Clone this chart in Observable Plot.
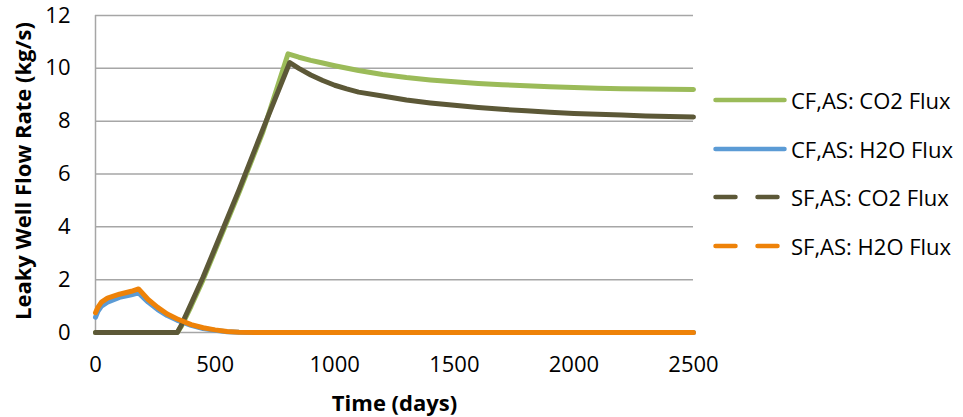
<!DOCTYPE html>
<html>
<head>
<meta charset="utf-8">
<script src="https://cdn.jsdelivr.net/npm/d3@7"></script>
<script src="https://cdn.jsdelivr.net/npm/@observablehq/plot@0.6"></script>
<style>
  body { margin: 0; background: #fff; font-family: "Open Sans", sans-serif; }
  #wrap { position: relative; width: 963px; height: 417px; }
  #legend { position: absolute; left: 713px; top: 0; }
  .item { position: absolute; left: 0; display: flex; align-items: center; white-space: nowrap; font-size: 22px; color: #000; }
  .item svg { margin-right: 4px; }
</style>
</head>
<body>
<div id="wrap"><div id="chart"></div><div id="legend"></div></div>
<script>
const seriesNames = ["CF,AS: CO2 Flux", "CF,AS: H2O Flux", "SF,AS: CO2 Flux", "SF,AS: H2O Flux"];
const seriesColors = ["#9BBB59", "#5B9BD5", "#5C5837", "#EE8208"];
const seriesDashed = [false, false, true, true];

const cfCO2Days = [0, 342, 360, 400, 450, 500, 600, 700, 805, 850, 900, 950, 1000, 1100, 1200, 1300, 1400, 1500, 1600, 1700, 1800, 1900, 2000, 2100, 2200, 2300, 2400, 2500];
const cfCO2Vals = [0, 0, 0.25, 1.0, 2.0, 3.1, 5.3, 7.6, 10.55, 10.42, 10.3, 10.2, 10.1, 9.92, 9.77, 9.65, 9.56, 9.49, 9.43, 9.38, 9.34, 9.3, 9.27, 9.25, 9.23, 9.22, 9.21, 9.2];

const cfH2ODays = [0, 10, 25, 50, 100, 150, 180, 220, 260, 300, 340, 400, 450, 500, 550, 600, 700, 2500];
const cfH2OVals = [0.58, 0.8, 1.0, 1.15, 1.33, 1.43, 1.5, 1.15, 0.87, 0.64, 0.47, 0.27, 0.15, 0.08, 0.03, 0.01, 0, 0];

const sfCO2Days = [0, 342, 360, 400, 450, 500, 600, 700, 812, 850, 900, 950, 1000, 1050, 1100, 1200, 1300, 1400, 1500, 1600, 1700, 1800, 1900, 2000, 2100, 2200, 2300, 2400, 2500];
const sfCO2Vals = [0, 0, 0.3, 1.1, 2.1, 3.2, 5.4, 7.7, 10.22, 10.0, 9.75, 9.54, 9.36, 9.22, 9.1, 8.95, 8.8, 8.69, 8.6, 8.52, 8.45, 8.39, 8.34, 8.29, 8.26, 8.23, 8.2, 8.18, 8.16];

const sfH2ODays = [0, 10, 25, 50, 100, 150, 180, 220, 260, 300, 340, 400, 450, 500, 550, 600, 700, 2500];
const sfH2OVals = [0.75, 0.95, 1.15, 1.3, 1.45, 1.56, 1.65, 1.25, 0.95, 0.7, 0.52, 0.3, 0.18, 0.1, 0.04, 0.01, 0, 0];

const xTicks = [0, 500, 1000, 1500, 2000, 2500];
const yTicks = [0, 2, 4, 6, 8, 10, 12];

const toRows = (days, vals) => days.map((d, i) => ({day: d, v: vals[i]}));
const series = [
  toRows(cfCO2Days, cfCO2Vals),
  toRows(cfH2ODays, cfH2OVals),
  toRows(sfCO2Days, sfCO2Vals),
  toRows(sfH2ODays, sfH2OVals)
];

const plot = Plot.plot({
  width: 963,
  height: 417,
  marginLeft: 95,
  marginRight: 270,
  marginTop: 15,
  marginBottom: 85,
  style: {fontFamily: "Open Sans, sans-serif", background: "#fff", overflow: "visible"},
  x: {domain: [0, 2500]},
  y: {domain: [0, 12]},
  marks: [
    Plot.gridY(yTicks, {stroke: "#a6a6a6", strokeOpacity: 1, strokeWidth: 1.5}),
    Plot.ruleX([0], {stroke: "#a6a6a6", strokeWidth: 1.5}),
    Plot.axisY(yTicks, {tickSize: 0, tickPadding: 25, fontSize: 22, label: null, tickFormat: d => String(d)}),
    Plot.axisX(xTicks, {tickSize: 0, tickPadding: 24, fontSize: 22, label: null, tickFormat: d => String(d)}),
    Plot.text(["Leaky Well Flow Rate (kg/s)"], {frameAnchor: "left", textAnchor: "middle", dx: -72, dy: -3, rotate: -90, fontSize: 22, fontWeight: "bold"}),
    Plot.text(["Time (days)"], {frameAnchor: "bottom", textAnchor: "middle", dy: 78, fontSize: 22, fontWeight: "bold"}),
    ...series.map((rows, i) => Plot.line(rows, {x: "day", y: "v", stroke: seriesColors[i], strokeWidth: 5, strokeLinecap: "round", strokeLinejoin: "round"}))
  ]
});
document.getElementById("chart").appendChild(plot);

const legend = document.getElementById("legend");
const legendTops = [100, 148.5, 197, 245.5];
seriesNames.forEach((name, i) => {
  const div = document.createElement("div");
  div.className = "item";
  div.style.top = (legendTops[i] - 15) + "px";
  const dash = seriesDashed[i] ? 'stroke-dasharray="20 22"' : '';
  div.innerHTML = `<svg width="74" height="30"><line x1="2.5" y1="15" x2="71.5" y2="15" stroke="${seriesColors[i]}" stroke-width="4.5" stroke-linecap="round" ${dash}/></svg><span>${name}</span>`;
  legend.appendChild(div);
});
</script>
</body>
</html>
